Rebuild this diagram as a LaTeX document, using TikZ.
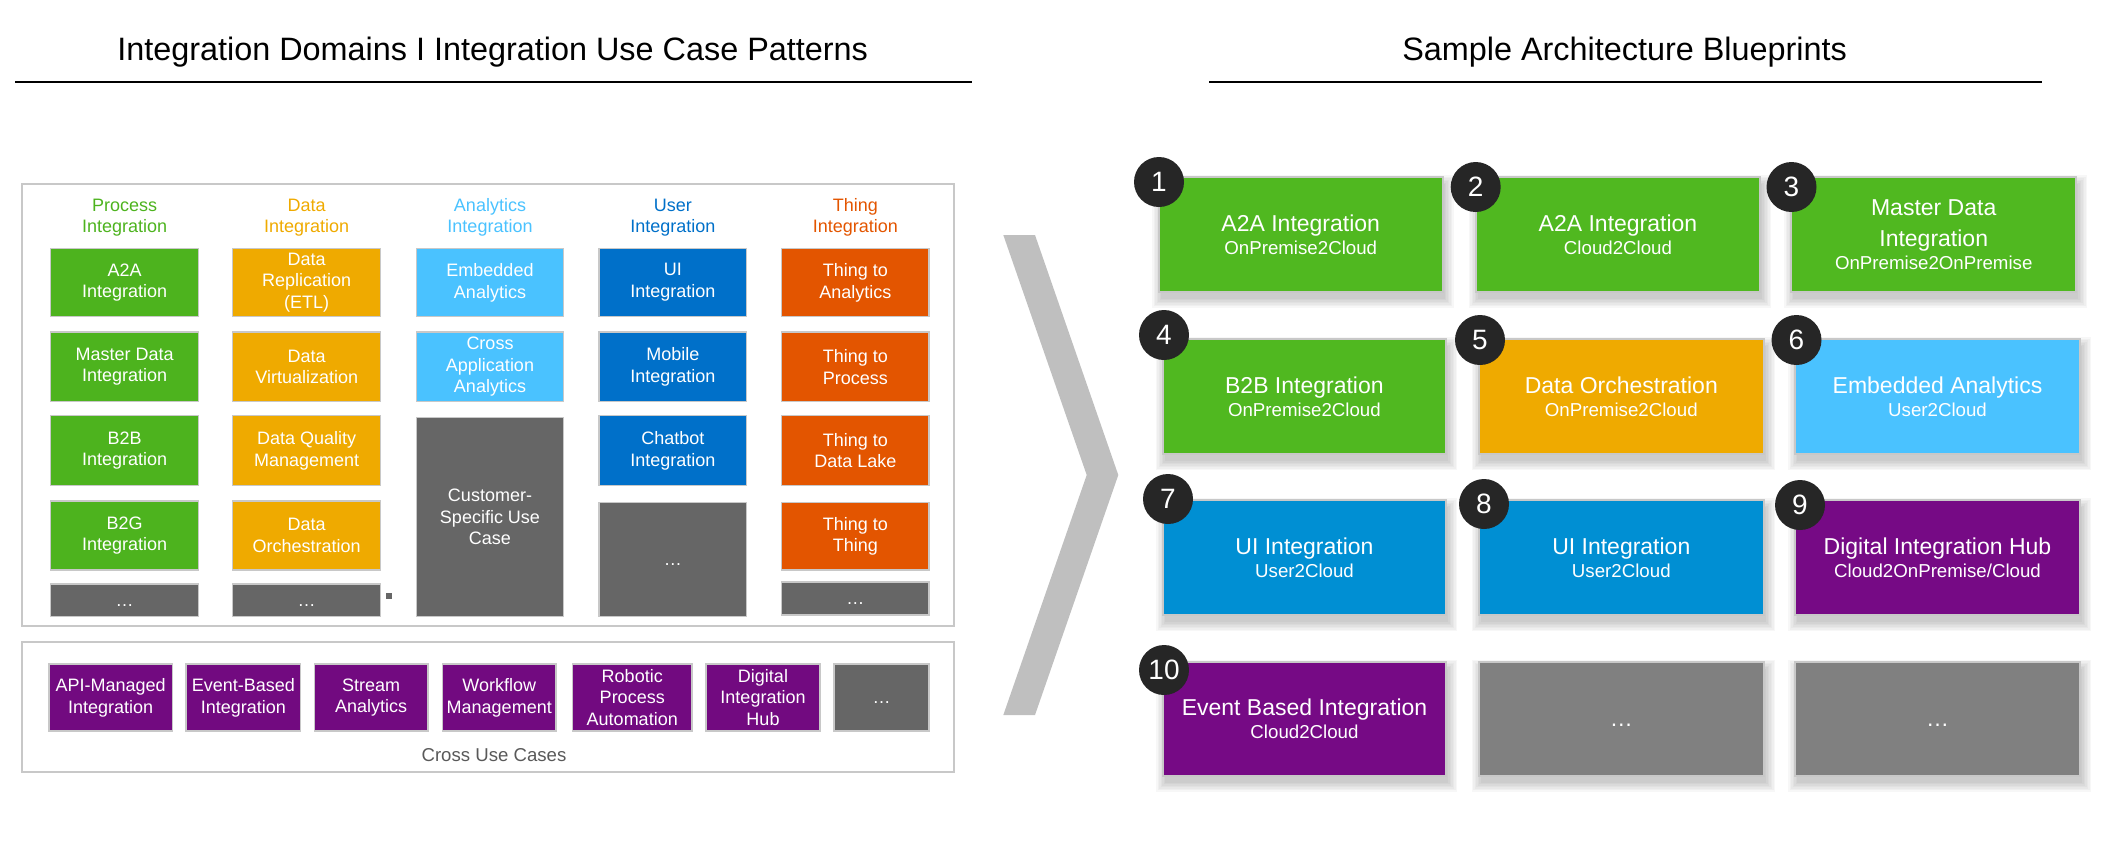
\documentclass[tikz,border=0pt]{standalone}
\usepackage{fontspec}
\setmainfont{Liberation Sans}
\usetikzlibrary{fit}
\definecolor{cgreen}{HTML}{4DB31E}
\definecolor{rgreen}{HTML}{50B820}
\definecolor{corange}{HTML}{EFAA00}
\definecolor{clblue}{HTML}{4AC2FF}
\definecolor{cblue}{HTML}{0070C9}
\definecolor{rblue}{HTML}{008FD3}
\definecolor{cthing}{HTML}{E35500}
\definecolor{cgray}{HTML}{666666}
\definecolor{rgray}{HTML}{808080}
\definecolor{cpurple}{HTML}{720A80}
\definecolor{rpurple}{HTML}{760A85}
\definecolor{cborder}{HTML}{C8C8C8}
\definecolor{cchev}{HTML}{BFBFBF}
\definecolor{cbadge}{HTML}{262626}
\definecolor{ctext}{HTML}{595959}
\tikzset{
  lbox/.style={draw=cborder, line width=0.54pt, inner sep=0pt},
  ltext/.style={inner sep=0pt, text=white, align=center,
    font=\fontsize{6.48pt}{7.81pt}\selectfont},
  rbox/.style={draw=cborder, line width=0.72pt, inner sep=0pt},
  rtext/.style={inner sep=0pt, text=white, align=center,
    font=\fontsize{8.28pt}{8.3pt}\selectfont},
  hdr/.style={align=center, inner sep=0pt, font=\fontsize{6.48pt}{7.56pt}\selectfont},
  badge/.style={circle, fill=cbadge, minimum size=18pt, inner sep=0pt, text=white,
    font=\fontsize{10.08pt}{12pt}\selectfont},
  panel/.style={draw=cborder, line width=0.72pt},
  ttl/.style={inner sep=0pt, anchor=base west, font=\fontsize{11.66pt}{14pt}\selectfont},
  rule/.style={line width=0.6pt, black},
  shadowfill/.style={fill=black, opacity=0.03}
}
\newcommand\subf{\fontsize{6.73pt}{8.3pt}\selectfont}
\newcommand\dotsA{\vphantom{A}\ldots}
\newcommand\lb[7]{\node[lbox, fill=#6, fit={(#2,#3) (#4,#5)}] (#1) {};
  \node[ltext] (#1t) at (#1.center) {#7};}
\newcommand\rbx[7]{%
  \foreach \e in {0,1.5,3,4.5,6,7.5,9}{\fill[shadowfill] (#2+2-\e,#3+7-\e) rectangle (#4+2+\e,#5+7+\e);}
  \node[rbox, fill=#6, fit={(#2,#3) (#4,#5)}] (#1) {};
  \node[rtext] (#1t) at (#1.center) {#7};}
\begin{document}
\begin{tikzpicture}[x=0.36pt, y=-0.36pt]
\useasboundingbox (0,0) rectangle (2113,844);
% titles
\node[ttl] (tleft) at (116.7,60) {Integration Domains I Integration Use Case Patterns};
\node[ttl] (tright) at (1401.7,60) {Sample Architecture Blueprints};
\coordinate (l1a) at (15,81.7); \coordinate (l1b) at (971.6,81.7);
\coordinate (l2a) at (1209,81.7); \coordinate (l2b) at (2042,81.7);
\draw[rule] (l1a) -- (l1b);
\draw[rule] (l2a) -- (l2b);
% panels
\node[panel, inner sep=0pt, fit={(21.7,184.3) (954,626)}] (upper) {};
\node[panel, inner sep=0pt, fit={(21.9,642.3) (954.4,772.3)}] (lower) {};
% headers
\node[hdr, text=cgreen] (h1) at (124.7,217.4) {Process\\Integration};
\node[hdr, text=corange] (h2) at (306.7,217.4) {Data\\Integration};
\node[hdr, text=clblue] (h3) at (490,217.4) {Analytics\\Integration};
\node[hdr, text=cblue] (h4) at (672.9,217.4) {User\\Integration};
\node[hdr, text=cthing] (h5) at (855.4,217.4) {Thing\\Integration};
% column 1
\lb{p1}{50.7}{248.5}{198.7}{316.5}{cgreen}{A2A\\Integration}
\lb{p2}{50.7}{332}{198.7}{401.5}{cgreen}{Master Data\\Integration}
\lb{p3}{50.7}{415.5}{198.7}{485.5}{cgreen}{B2B\\Integration}
\lb{p4}{50.7}{501}{198.7}{570}{cgreen}{B2G\\Integration}
\lb{p5}{50.7}{584}{198.7}{616.5}{cgray}{\dotsA}
% column 2
\lb{d1}{232.7}{248.5}{380.7}{316.5}{corange}{Data\\Replication\\(ETL)}
\lb{d2}{232.7}{332}{380.7}{401.5}{corange}{Data\\Virtualization}
\lb{d3}{232.7}{415.5}{380.7}{485.5}{corange}{Data Quality\\Management}
\lb{d4}{232.7}{501}{380.7}{570}{corange}{Data\\Orchestration}
\lb{d5}{232.7}{584}{380.7}{616.5}{cgray}{\dotsA}
\fill[cgray] (386,592.5) rectangle (392,598.5);
% column 3
\lb{a1}{416.7}{248.5}{563.3}{316.5}{clblue}{Embedded\\Analytics}
\lb{a2}{416.7}{332}{563.3}{401.5}{clblue}{Cross\\Application\\Analytics}
\lb{a3}{416.7}{417.3}{563.3}{616.5}{cgray}{Customer-\\Specific Use\\Case}
% column 4
\lb{u1}{599}{248.5}{746.7}{316.5}{cblue}{UI\\Integration}
\lb{u2}{599}{332}{746.7}{401.5}{cblue}{Mobile\\Integration}
\lb{u3}{599}{415.5}{746.7}{485.5}{cblue}{Chatbot\\Integration}
\lb{u4}{599}{502.7}{746.7}{616.5}{cgray}{\dotsA}
% column 5
\lb{t1}{781.7}{248.5}{929}{316.5}{cthing}{Thing to\\Analytics}
\lb{t2}{781.7}{332}{929}{401.5}{cthing}{Thing to\\Process}
\lb{t3}{781.7}{415.5}{929}{485.5}{cthing}{Thing to\\Data Lake}
\lb{t4}{781.7}{502.7}{929}{570}{cthing}{Thing to\\Thing}
\lb{t5}{781.7}{582}{929}{615}{cgray}{\dotsA}
% cross use cases
\lb{x1}{48.75}{664}{172.5}{731}{cpurple}{API-Managed\\Integration}
\lb{x2}{186}{664}{300.6}{731}{cpurple}{Event-Based\\Integration}
\lb{x3}{314.4}{664}{428}{731}{cpurple}{Stream\\Analytics}
\lb{x4}{442.5}{664}{556}{731}{cpurple}{Workflow\\Management}
\lb{x5}{572.5}{664}{692}{731}{cpurple}{Robotic\\Process\\Automation}
\lb{x6}{706}{664}{820}{731}{cpurple}{Digital\\Integration\\Hub}
\lb{x7}{834}{664}{929}{731}{cgray}{\dotsA}
\node[anchor=base, inner sep=0pt, text=ctext, font=\fontsize{6.7pt}{8pt}\selectfont] (xl) at (494,761.5) {Cross Use Cases};
% chevron
\fill[cchev] (1003.3,235) -- (1035,235) -- (1118.3,475) -- (1035,715) -- (1003.3,715) -- (1086.7,475) -- cycle;
% blueprints
\rbx{b1}{1159}{177}{1442.5}{291.7}{rgreen}{A2A Integration\\{\subf OnPremise2Cloud}}
\rbx{b2}{1475.7}{177}{1760.3}{291.7}{rgreen}{A2A Integration\\{\subf Cloud2Cloud}}
\rbx{b3}{1791.4}{177}{2076}{291.7}{rgreen}{Master Data\\[2.9pt]Integration\\{\subf OnPremise2OnPremise}}
\rbx{b4}{1162.8}{339}{1446}{454}{rgreen}{B2B Integration\\{\subf OnPremise2Cloud}}
\rbx{b5}{1478.6}{339}{1764}{454}{corange}{Data Orchestration\\{\subf OnPremise2Cloud}}
\rbx{b6}{1795}{339}{2080}{454}{clblue}{Embedded Analytics\\{\subf User2Cloud}}
\rbx{b7}{1163}{500}{1446}{615}{rblue}{UI Integration\\{\subf User2Cloud}}
\rbx{b8}{1478.6}{500}{1764}{615}{rblue}{UI Integration\\{\subf User2Cloud}}
\rbx{b9}{1795}{500}{2080}{615}{rpurple}{Digital Integration Hub\\{\subf Cloud2OnPremise/Cloud}}
\rbx{b10}{1163}{661.5}{1446}{775.5}{rpurple}{Event Based Integration\\{\subf Cloud2Cloud}}
\rbx{b11}{1478.6}{661.5}{1764}{775.5}{rgray}{\vphantom{A}…}
\rbx{b12}{1795}{661.5}{2080}{775.5}{rgray}{\vphantom{A}…}
% badges
\node[badge] (n1) at (1159,182) {1};
\node[badge] (n2) at (1475.7,187) {2};
\node[badge] (n3) at (1791.5,187) {3};
\node[badge] (n4) at (1164,335) {4};
\node[badge] (n5) at (1480,340) {5};
\node[badge] (n6) at (1796.5,340) {6};
\node[badge] (n7) at (1168,499) {7};
\node[badge] (n8) at (1484,504) {8};
\node[badge] (n9) at (1800,505) {9};
\node[badge] (n10) at (1164,670) {10};
\end{tikzpicture}
\end{document}
